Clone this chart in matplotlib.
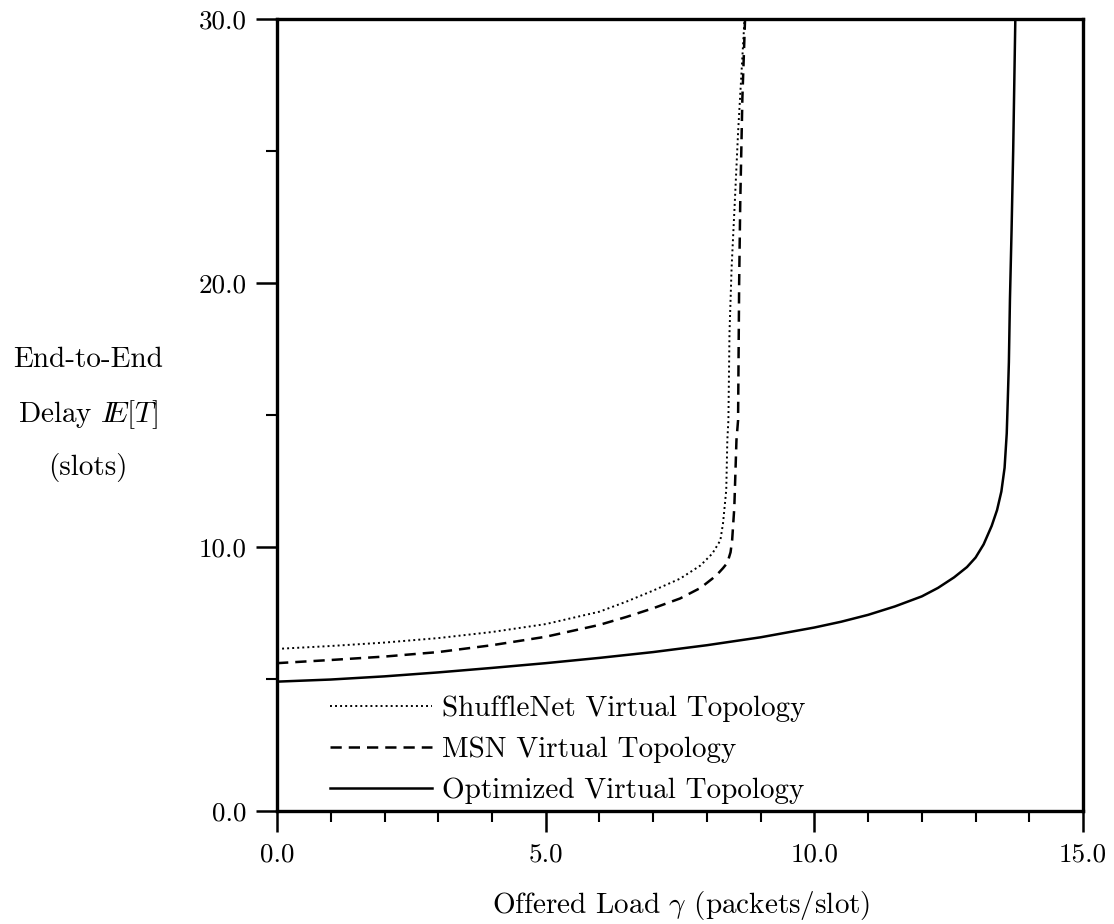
import numpy as np
import matplotlib
matplotlib.use('Agg')
import matplotlib.pyplot as plt

plt.rcParams['font.family'] = ['cmr10', 'DejaVu Serif']
plt.rcParams['mathtext.fontset'] = 'cm'
plt.rcParams['axes.formatter.use_mathtext'] = True

# values
shuffle_x = [0.0, 1.0, 2.0, 3.0, 4.0, 5.0, 6.0, 6.5, 7.0, 7.5, 7.88, 8.1, 8.25, 8.30,
             8.36, 8.38, 8.40, 8.42, 8.46, 8.52, 8.58, 8.65, 8.70]
shuffle_y = [6.14, 6.25, 6.38, 6.55, 6.78, 7.08, 7.55, 7.93, 8.35, 8.8, 9.3, 9.75, 10.25, 10.9,
             12.16, 14.05, 14.8, 18.1, 20.6, 23.1, 25.7, 28.2, 30.0]

msn_x = [0.0, 1.0, 2.0, 3.0, 4.0, 5.0, 6.0, 6.5, 7.0, 7.5, 7.88, 8.1, 8.21, 8.30, 8.38,
         8.44, 8.47, 8.51, 8.55, 8.58, 8.60, 8.62, 8.66, 8.71]
msn_y = [5.6, 5.72, 5.85, 6.02, 6.28, 6.6, 7.05, 7.35, 7.68, 8.05, 8.45, 8.8, 9.0, 9.2, 9.4,
         9.8, 10.27, 11.5, 14.05, 14.8, 20.0, 23.0, 27.0, 30.0]

opt_x = [0.0, 1.0, 2.0, 3.0, 4.0, 5.0, 6.0, 7.0, 8.0, 9.0, 10.0, 10.5, 11.0, 11.5,
         12.0, 12.3, 12.6, 12.84, 13.0, 13.15, 13.3, 13.4, 13.48, 13.54, 13.58,
         13.60, 13.62, 13.64, 13.67, 13.70, 13.74]
opt_y = [4.9, 4.98, 5.1, 5.25, 5.42, 5.6, 5.8, 6.02, 6.28, 6.58, 6.95, 7.17, 7.43, 7.75,
         8.13, 8.45, 8.85, 9.24, 9.6, 10.1, 10.8, 11.4, 12.1, 13.0, 14.3,
         15.6, 17.0, 19.4, 22.0, 25.0, 30.0]

labels = ['ShuffleNet Virtual Topology', 'MSN Virtual Topology',
          'Optimized Virtual Topology']

fig = plt.figure(figsize=(11.14, 9.24), dpi=100)
ax = fig.add_axes([0.2487, 0.1223, 0.7235, 0.8571])

ax.plot(shuffle_x, shuffle_y, color='k', lw=1.4, ls=(0, (1, 1.6)), label=labels[0])
ax.plot(msn_x, msn_y, color='k', lw=1.8, ls=(0, (4.5, 2.8)), label=labels[1])
ax.plot(opt_x, opt_y, color='k', lw=1.8, ls='-', label=labels[2])

ax.set_xlim(0, 15)
ax.set_ylim(0, 30)
ax.set_xticks([0, 5, 10, 15])
ax.set_xticks(np.arange(0, 16, 1), minor=True)
ax.set_yticks([0, 10, 20, 30])
ax.set_yticks([5, 15, 25], minor=True)
ax.xaxis.set_major_formatter(plt.FormatStrFormatter('%.1f'))
ax.yaxis.set_major_formatter(plt.FormatStrFormatter('%.1f'))
ax.tick_params(which='major', direction='out', length=15, width=1.8, labelsize=19.5)
ax.tick_params(which='minor', direction='out', length=8, width=1.5)
ax.tick_params(axis='y', pad=7)
ax.tick_params(axis='x', pad=8)
for s in ax.spines.values():
    s.set_linewidth(2.4)

ax.set_xlabel(r'Offered Load $\gamma$ (packets/slot)', fontsize=21, va='center')
ax.xaxis.set_label_coords(0.501, -0.1187)

fig.text(88 / 1114, 1 - 360 / 924, 'End-to-End', fontsize=21, ha='center', va='center')
fig.text(88 / 1114, 1 - 415 / 924, r'Delay $I\!\!E[T]$', fontsize=21, ha='center', va='center')
fig.text(88 / 1114, 1 - 468 / 924, '(slots)', fontsize=21, ha='center', va='center')

ax.legend(loc='upper left', bbox_to_anchor=(0.066, 0.146), frameon=False, fontsize=21,
          handlelength=3.5, handletextpad=0.34, labelspacing=0.5, borderpad=0,
          borderaxespad=0)

fig.savefig('out.png', dpi=100)
